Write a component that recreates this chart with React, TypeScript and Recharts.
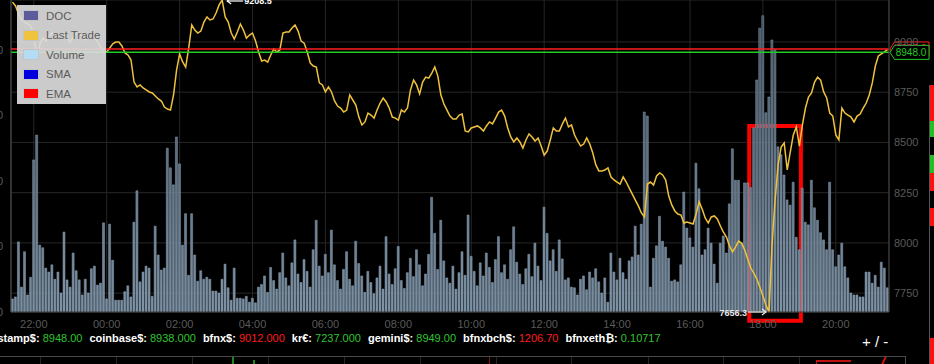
import React from "react";
import {
  ComposedChart,
  Bar,
  Line,
  XAxis,
  YAxis,
  CartesianGrid,
  ReferenceLine,
  ReferenceDot,
  ReferenceArea,
} from "recharts";

const FONT = "'Liberation Sans', Arial, sans-serif";

// 5 minute candles, first one at 21:25
const START_MINUTES = 21 * 60 + 25;
const STEP_MINUTES = 5;

const PRICE = [
  9198, 9179, 9139, 9109, 9099, 9089, 9079, 9039, 8910, 8990,
  9019, 9004, 9029, 9044, 9034, 9024, 9039, 9044, 9019, 8999,
  9024, 9039, 9044, 9024, 9009, 9039, 9044, 9024, 8999, 8975,
  8955, 8950, 8970, 8990, 8999, 8999, 8980, 8945, 8935, 8910,
  8800, 8776, 8786, 8771, 8761, 8751, 8746, 8731, 8716, 8706,
  8676, 8666, 8661, 8736, 8860, 8940, 8900, 8875, 8970, 9084,
  9059, 9044, 9054, 9099, 9124, 9109, 9114, 9144, 9184, 9208.5,
  9124, 9099, 9044, 9014, 9049, 9089, 9059, 9019, 9034, 9044,
  9004, 8950, 8905, 8910, 8900, 8935, 8965, 8950, 8960, 9044,
  9049, 9049, 9069, 9084, 9054, 9004, 8994, 8950, 8895, 8880,
  8875, 8796, 8786, 8751, 8776, 8751, 8706, 8681, 8671, 8651,
  8661, 8736, 8711, 8686, 8626, 8587, 8602, 8646, 8636, 8621,
  8661, 8696, 8721, 8701, 8671, 8626, 8621, 8611, 8661, 8651,
  8671, 8761, 8810, 8786, 8741, 8800, 8825, 8820, 8845, 8875,
  8830, 8736, 8691, 8661, 8631, 8616, 8616, 8636, 8641, 8557,
  8552, 8572, 8577, 8582, 8572, 8557, 8582, 8602, 8592, 8621,
  8651, 8661, 8631, 8572, 8527, 8502, 8522, 8502, 8472, 8512,
  8542, 8527, 8507, 8522, 8482, 8437, 8457, 8512, 8572, 8557,
  8557, 8592, 8621, 8577, 8587, 8537, 8507, 8482, 8492, 8522,
  8492, 8447, 8388, 8358, 8358, 8363, 8373, 8328, 8313, 8303,
  8293, 8328, 8303, 8273, 8243, 8213, 8184, 8149, 8129, 8293,
  8303, 8288, 8333, 8348, 8338, 8313, 8233, 8189, 8159, 8144,
  8139, 8099, 8104, 8099, 8094, 8144, 8204, 8169, 8124, 8099,
  8129, 8134, 8119, 8084, 8054, 8029, 7985, 7955, 7980, 8009,
  7999, 7965, 7920, 7875, 7850, 7820, 7780, 7736, 7691, 7656.3,
  7990, 8213, 8388, 8477, 8497, 8363, 8452, 8537, 8577, 8482,
  8587, 8671, 8726, 8746, 8800, 8825, 8810, 8751, 8721, 8646,
  8631, 8537, 8512, 8671, 8646, 8636, 8626, 8602, 8631, 8641,
  8671, 8696, 8736, 8796, 8880, 8930, 8940, 8950, 8962,
];

const VOLUME = [
  20, 23, 107, 38, 92, 26, 53, 232, 270, 102,
  98, 67, 61, 72, 50, 61, 29, 122, 49, 38,
  90, 63, 49, 26, 50, 29, 66, 70, 41, 44,
  136, 20, 134, 79, 18, 18, 18, 31, 40, 23,
  137, 185, 46, 61, 70, 67, 24, 131, 87, 64,
  67, 250, 220, 194, 267, 226, 102, 150, 56, 150,
  87, 47, 63, 50, 53, 50, 32, 32, 29, 50,
  73, 37, 18, 67, 21, 21, 20, 24, 15, 21,
  14, 38, 42, 55, 30, 68, 48, 35, 60, 90,
  52, 40, 75, 110, 58, 45, 80, 62, 38, 95,
  140, 70, 55, 88, 60, 125, 72, 48, 35, 65,
  92, 50, 40, 108, 74, 55, 30, 62, 45, 28,
  52, 70, 35, 115, 58, 42, 66, 100, 48, 36,
  60, 82, 54, 95, 72, 40, 58, 88, 175, 120,
  65, 140, 78, 52, 44, 70, 35, 60, 92, 56,
  148, 85, 62, 40, 75, 55, 90, 68, 45, 80,
  115, 60, 72, 50, 95, 130, 76, 58, 42, 66,
  88, 54, 105, 70, 48, 160, 120, 78, 95, 62,
  110, 81, 49, 52, 38, 37, 26, 50, 55, 34,
  61, 52, 66, 46, 29, 52, 15, 90, 61, 49,
  82, 60, 50, 78, 84, 131, 87, 134, 305, 299,
  38, 82, 101, 146, 108, 99, 82, 47, 49, 46,
  72, 183, 128, 113, 99, 227, 188, 87, 95, 128,
  105, 73, 44, 105, 116, 90, 165, 249, 201, 201,
  105, 197, 197, 190, 281, 354, 433, 452, 304, 328,
  415, 400, 252, 240, 209, 171, 163, 198, 114, 95,
  189, 137, 133, 201, 159, 140, 121, 110, 95, 198,
  95, 69, 87, 105, 69, 52, 29, 26, 26, 23,
  23, 61, 61, 44, 56, 38, 76, 67, 37,
];

const TIME_TICKS = [
  "22:00", "00:00", "02:00", "04:00", "06:00", "08:00",
  "10:00", "12:00", "14:00", "16:00", "18:00", "20:00",
];
const PRICE_TICKS = [7750, 8000, 8250, 8500, 8750, 9000];
const VOLUME_TICKS = [0, 100, 200, 300, 400];
const VOLUME_MAX = 476;

const LAST_TRADE = 8948.0;
const EMA_LEVEL = 8965.0;

// highlighted crash window
const HIGHLIGHT_FROM = "17:40";
const HIGHLIGHT_TO = "19:00";
const HIGHLIGHT_LOW = 7613;
const HIGHLIGHT_HIGH = 8582;

const LEGEND_ITEMS = [
  { name: "DOC", color: "#5c5c9c" },
  { name: "Last Trade", color: "#f0c33e" },
  { name: "Volume", color: "#b4dcf4" },
  { name: "SMA", color: "#0000dc" },
  { name: "EMA", color: "#ff0000" },
];

const UP = "#2fc42f";
const DOWN = "#ff1c1c";
const TICKER = [
  { name: "bitstamp$:", value: "8948.00", color: UP },
  { name: "coinbase$:", value: "8938.000", color: UP },
  { name: "bfnx$:", value: "9012.000", color: DOWN },
  { name: "kr€:", value: "7237.000", color: UP },
  { name: "gemini$:", value: "8949.00", color: UP },
  { name: "bfnxbch$:", value: "1206.70", color: DOWN },
  { name: "bfnxeth₿:", value: "0.10717", color: UP },
];

// x key = minutes since midnight of the first day, so the window stays unique past 24h
const pad = (n: number) => String(n).padStart(2, "0");
const fmtTime = (m: number) => {
  const d = m % 1440;
  return `${pad(Math.floor(d / 60))}:${pad(d % 60)}`;
};
const toWindowMinutes = (hhmm: string) => {
  const [h, m] = hhmm.split(":").map(Number);
  const v = h * 60 + m;
  return v < START_MINUTES ? v + 1440 : v;
};

const AXIS_TEXT = { fill: "#5a5a5a", fontSize: 11, fontFamily: FONT };

const priceTag = (value: number, color: string) => (props: any) => {
  const vb = props.viewBox || {};
  const x0 = vb.x + vb.width + 1;
  const y = vb.y;
  const pts = `${x0},${y} ${x0 + 4.5},${y - 7} ${x0 + 39},${y - 7} ${x0 + 39},${y + 7} ${x0 + 4.5},${y + 7}`;
  return (
    <g>
      <polygon points={pts} fill="#000" stroke={color} strokeWidth={1} />
      <text x={x0 + 21} y={y + 3.5} textAnchor="middle" fill={color} fontSize={10} fontFamily={FONT}>
        {value.toFixed(1)}
      </text>
    </g>
  );
};

const MaxMarker = (props: any) => {
  const { cx, cy, value } = props;
  const ay = cy + 1;
  return (
    <g>
      <line x1={cx + 5} x2={cx + 21} y1={ay} y2={ay} stroke="#fff" strokeWidth={1.2} />
      <path d={`M${cx + 9},${ay - 3} L${cx + 5},${ay} L${cx + 9},${ay + 3}`} stroke="#fff" fill="none" strokeWidth={1.2} />
      <text x={cx + 22} y={cy + 4} fill="#fff" fontSize={9} fontWeight="bold" fontFamily={FONT}>
        {value}
      </text>
    </g>
  );
};

const MinMarker = (props: any) => {
  const { cx, cy, value } = props;
  return (
    <g>
      <line x1={cx - 21} x2={cx - 3} y1={cy} y2={cy} stroke="#e8e8e8" strokeWidth={1.2} />
      <path d={`M${cx - 7},${cy - 3} L${cx - 3},${cy} L${cx - 7},${cy + 3}`} stroke="#e8e8e8" fill="none" strokeWidth={1.2} />
      <text x={cx - 22} y={cy + 3.5} textAnchor="end" fill="#e8e8e8" fontSize={9} fontWeight="bold" fontFamily={FONT}>
        {value}
      </text>
    </g>
  );
};

function Legend() {
  return (
    <div
      style={{
        position: "absolute",
        left: 17,
        top: 5,
        width: 89,
        height: 99,
        background: "rgba(218,218,218,0.93)",
        fontFamily: FONT,
        fontSize: 11.5,
        color: "#5a5a5a",
        paddingTop: 1,
        boxSizing: "border-box",
      }}
    >
      {LEGEND_ITEMS.map((item) => (
        <div key={item.name} style={{ height: 19.5, display: "flex", alignItems: "center" }}>
          <span
            style={{
              display: "inline-block",
              width: 14,
              height: 9,
              marginLeft: 6,
              marginRight: 7,
              background: item.color,
              border: "1px solid #c4c4c4",
            }}
          />
          <span>{item.name}</span>
        </div>
      ))}
    </div>
  );
}

function Ticker() {
  return (
    <div
      style={{
        position: "absolute",
        left: -16,
        top: 331,
        whiteSpace: "nowrap",
        fontFamily: FONT,
        fontSize: 11,
        lineHeight: "14px",
      }}
    >
      {TICKER.map((t) => (
        <span key={t.name} style={{ marginRight: 7 }}>
          <b style={{ color: "#fff" }}>{t.name}</b> <span style={{ color: t.color }}>{t.value}</span>
        </span>
      ))}
    </div>
  );
}

const SIDE_BLOCKS = [
  { top: 85, height: 36, color: "#ff1010" },
  { top: 121, height: 16, color: "#22c022" },
  { top: 155, height: 18, color: "#22c022" },
  { top: 173, height: 18, color: "#ff1010" },
  { top: 208, height: 18, color: "#ff1010" },
  { top: 338, height: 26, color: "#ff1010" },
];
const PANEL_DIVIDERS = [40, 116, 192, 268, 344, 420, 496, 571, 648, 723, 799];

function Chrome() {
  return (
    <>
      <div style={{ position: "absolute", left: 929, top: 85, width: 1, height: 279, background: "#555" }} />
      {SIDE_BLOCKS.map((b, i) => (
        <div key={i} style={{ position: "absolute", left: 930, top: b.top, width: 4, height: b.height, background: b.color }} />
      ))}
      <div style={{ position: "absolute", left: 0, top: 356, width: 906, height: 1, background: "#4a4a4a" }} />
      <div style={{ position: "absolute", left: 905, top: 356, width: 1, height: 8, background: "#4a4a4a" }} />
      {PANEL_DIVIDERS.map((x) => (
        <div key={x} style={{ position: "absolute", left: x, top: 357, width: 1, height: 7, background: "#262626" }} />
      ))}
      <div style={{ position: "absolute", left: 232, top: 357, width: 2, height: 7, background: "#1b8a1b" }} />
      <div style={{ position: "absolute", left: 253, top: 360, width: 2, height: 4, background: "#1b8a1b" }} />
      <div style={{ position: "absolute", left: 489, top: 357, width: 1, height: 7, background: "#8a1010" }} />
      <div style={{ position: "absolute", left: 816, top: 360, width: 34, height: 4, borderTop: "2px solid #c01010", borderLeft: "1px solid #c01010" }} />
      <div style={{ position: "absolute", left: 883, top: 357, width: 2, height: 7, background: "#e01010", transform: "skewX(-25deg)" }} />
      <div
        style={{
          position: "absolute",
          left: 862,
          top: 333,
          fontFamily: FONT,
          fontSize: 15,
          color: "#fff",
          whiteSpace: "nowrap",
        }}
      >
        + / -
      </div>
    </>
  );
}

export default function App() {
  const data = PRICE.map((price, i) => ({
    m: START_MINUTES + i * STEP_MINUTES,
    price,
    vol: VOLUME[i],
  }));
  const maxIdx = PRICE.indexOf(Math.max(...PRICE));
  const minIdx = PRICE.indexOf(Math.min(...PRICE));
  const tickValues = TIME_TICKS.map(toWindowMinutes);

  return (
    <div
      style={{
        position: "fixed",
        left: 0,
        top: 0,
        width: 934,
        height: 364,
        background: "#000",
        overflow: "hidden",
      }}
    >
      <div style={{ position: "absolute", left: -29, top: 0 }}>
        <ComposedChart
          width={963}
          height={330}
          data={data}
          margin={{ top: 0, right: 0, bottom: 0, left: 0 }}
          barCategoryGap="12%"
        >
          <defs>
            <linearGradient id="volFill" gradientUnits="userSpaceOnUse" x1="0" y1="0" x2="0" y2="312">
              <stop offset="0" stopColor="#3c4b58" />
              <stop offset="1" stopColor="#7a90a4" />
            </linearGradient>
          </defs>
          <CartesianGrid yAxisId="price" stroke="#262626" />
          <XAxis
            dataKey="m"
            ticks={tickValues}
            tickFormatter={fmtTime}
            interval={0}
            height={18}
            tickLine={false}
            tickSize={6}
            tickMargin={2}
            axisLine={{ stroke: "#333" }}
            tick={AXIS_TEXT}
          />
          <YAxis
            yAxisId="vol"
            orientation="left"
            width={40}
            domain={[0, VOLUME_MAX]}
            ticks={VOLUME_TICKS}
            tickLine={false}
            tickSize={6}
            tickMargin={2}
            axisLine={{ stroke: "#555" }}
            tick={AXIS_TEXT}
          />
          <YAxis
            yAxisId="price"
            orientation="right"
            width={45}
            domain={["dataMin", "dataMax"]}
            ticks={PRICE_TICKS}
            tickLine={false}
            tickSize={3}
            tickMargin={2}
            axisLine={{ stroke: "#444" }}
            tick={AXIS_TEXT}
          />
          <Bar
            yAxisId="vol"
            dataKey="vol"
            fill="url(#volFill)"
            stroke="#8ca1b5"
            strokeWidth={0.5}
            isAnimationActive={false}
          />
          <Line
            yAxisId="price"
            dataKey="price"
            type="linear"
            stroke="#f0c23c"
            strokeWidth={1.5}
            dot={false}
            isAnimationActive={false}
          />
          <ReferenceLine
            yAxisId="price"
            y={EMA_LEVEL}
            stroke="#ff1f1f"
            strokeWidth={1.5}
            ifOverflow="visible"
            label={priceTag(EMA_LEVEL, "#ff1f1f")}
          />
          <ReferenceLine
            yAxisId="price"
            y={LAST_TRADE}
            stroke="#22cc22"
            strokeWidth={1.5}
            ifOverflow="visible"
            label={priceTag(LAST_TRADE, "#22cc22")}
          />
          <ReferenceDot
            yAxisId="price"
            x={data[maxIdx].m}
            y={PRICE[maxIdx]}
            r={0}
            ifOverflow="visible"
            shape={(p: any) => <MaxMarker {...p} value={PRICE[maxIdx]} />}
          />
          <ReferenceDot
            yAxisId="price"
            x={data[minIdx].m}
            y={PRICE[minIdx]}
            r={0}
            ifOverflow="visible"
            shape={(p: any) => <MinMarker {...p} value={PRICE[minIdx]} />}
          />
          <ReferenceArea
            yAxisId="price"
            x1={toWindowMinutes(HIGHLIGHT_FROM)}
            x2={toWindowMinutes(HIGHLIGHT_TO)}
            y1={HIGHLIGHT_LOW}
            y2={HIGHLIGHT_HIGH}
            fill="none"
            stroke="#ff0000"
            strokeWidth={4}
            ifOverflow="visible"
          />
        </ComposedChart>
      </div>
      <Legend />
      <Ticker />
      <Chrome />
    </div>
  );
}
